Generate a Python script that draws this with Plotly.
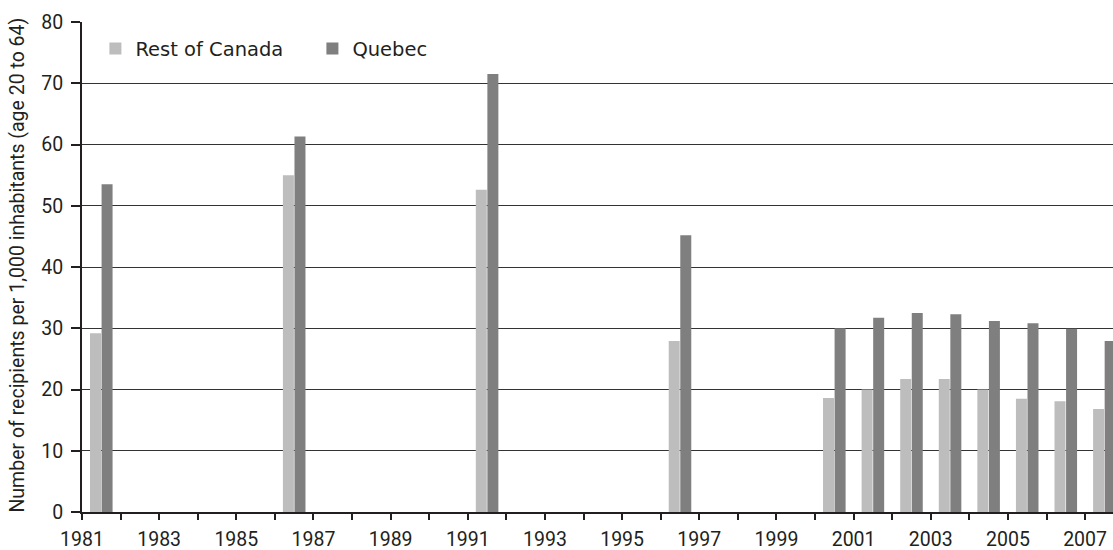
import plotly.graph_objects as go

years = [1981, 1986, 1991, 1996, 2000, 2001, 2002, 2003, 2004, 2005, 2006, 2007]
rest_of_canada = [29.2, 55.0, 52.6, 27.9, 18.6, 20.0, 21.7, 21.7, 20.0, 18.5, 18.1, 16.8]
quebec = [53.5, 61.3, 71.5, 45.2, 30.0, 31.7, 32.5, 32.3, 31.2, 30.8, 29.9, 27.9]
axis_years = list(range(1981, 2008))
tick_labels = [str(y) if y % 2 == 1 else "" for y in axis_years]
y_title = "Number of recipients per 1,000 inhabitants (age 20 to 64)"

FONT = "Roboto, 'DejaVu Sans', sans-serif"
LEGEND_FONT = "'DejaVu Sans', Roboto, sans-serif"
INK = "#231f20"

fig = go.Figure()
fig.add_trace(go.Bar(x=years, y=rest_of_canada, name="Rest of Canada",
                     marker=dict(color="#bdbdbd", line=dict(width=0))))
fig.add_trace(go.Bar(x=years, y=quebec, name="Quebec",
                     marker=dict(color="#7f7f7f", line=dict(width=0))))

fig.update_layout(
    width=1113, height=550,
    margin=dict(l=82, r=0, t=22, b=38),
    paper_bgcolor="white", plot_bgcolor="white",
    barmode="group", bargap=0.4, bargroupgap=0.05,
    font=dict(family=FONT, size=19, color=INK),
    showlegend=True,
    legend=dict(orientation="h", x=0.013, y=0.985, xanchor="left", yanchor="top",
                font=dict(family=LEGEND_FONT, size=19.5, color=INK),
                bgcolor="rgba(0,0,0,0)", entrywidth=172, entrywidthmode="pixels",
                traceorder="normal"),
    annotations=[dict(text=y_title, textangle=-90, xref="paper", yref="paper",
                      x=-0.063, y=0.503, xanchor="center", yanchor="middle",
                      showarrow=False, font=dict(family=FONT, size=19.5, color=INK))],
)

fig.update_xaxes(
    range=[1980.5, 1980.5 + 1031 / 38.58],
    tickmode="array",
    tickvals=[y - 0.5 for y in axis_years],
    ticktext=tick_labels,
    ticks="outside", ticklen=6, tickwidth=1.5, tickcolor=INK,
    showline=True, linewidth=2, linecolor=INK,
    showgrid=False, zeroline=False,
    tickfont=dict(family=FONT, size=19.5, color=INK),
    ticklabelstandoff=3,
)
fig.update_yaxes(
    range=[0, 80],
    tickvals=[0, 10, 20, 30, 40, 50, 60, 70, 80],
    ticks="outside", ticklen=9, tickwidth=1.5, tickcolor=INK,
    showline=True, linewidth=2, linecolor=INK,
    showgrid=True, gridcolor="#333333", gridwidth=1,
    zeroline=False,
    tickfont=dict(family=FONT, size=19.5, color=INK),
    ticklabelstandoff=4,
)

fig.write_html(
    "out.html",
    config={"displayModeBar": False},
    post_script="document.body.style.margin='0';document.body.style.overflow='hidden';",
)
